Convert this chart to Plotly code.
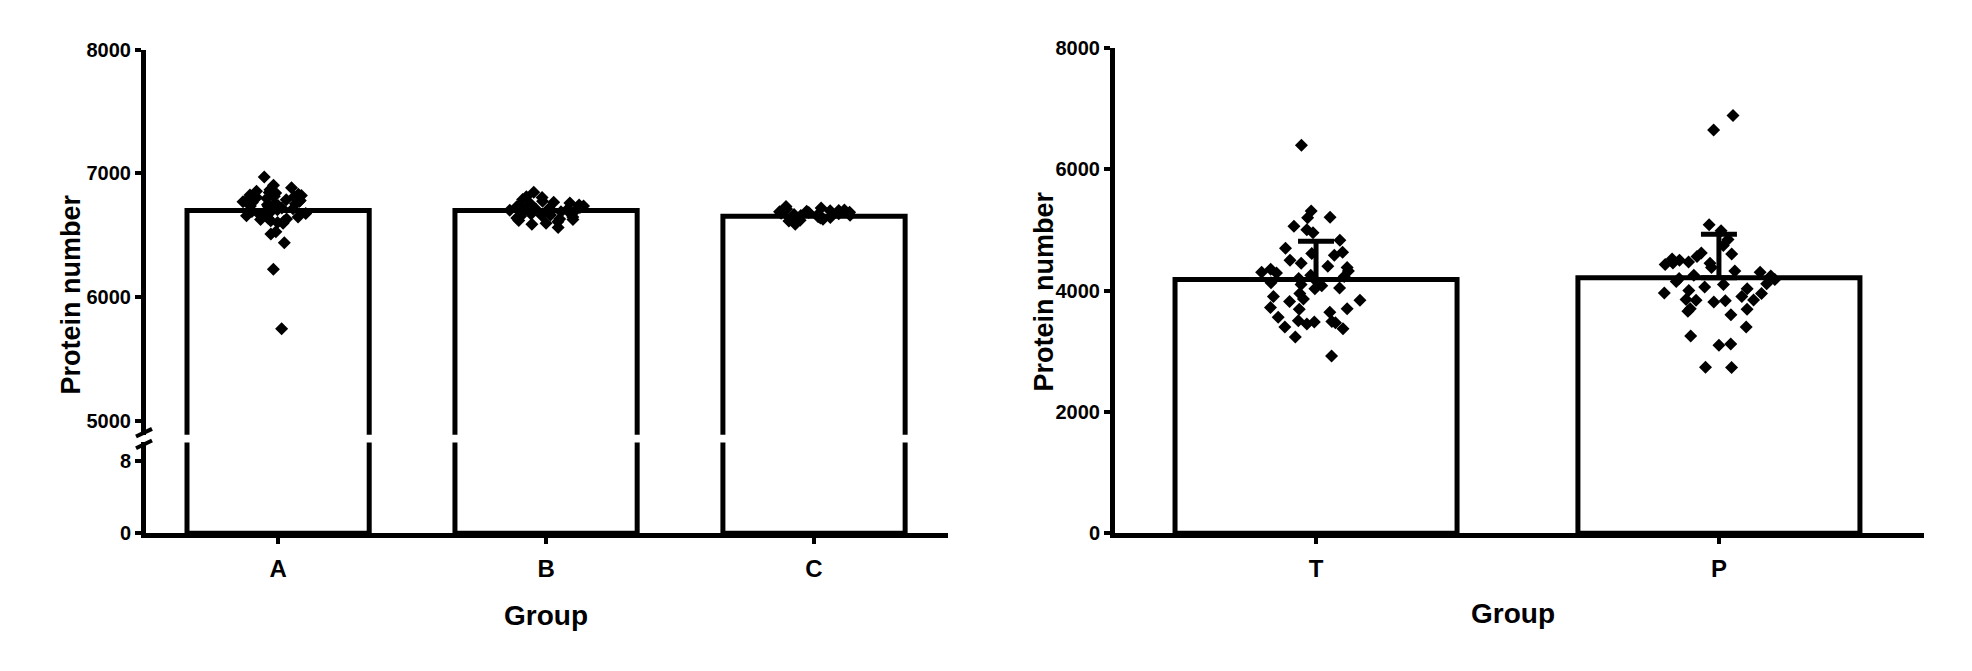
import plotly.graph_objs as go

# ---- data ----
left_groups = ['A', 'B', 'C']
left_means = [6700, 6700, 6655]

a_vals = [6971, 6842, 6823, 6771, 6758, 6628, 6597, 6530, 6511, 6441, 6226, 5745,
          6905, 6884, 6868, 6857, 6846, 6833, 6826, 6812, 6805, 6797, 6788, 6779,
          6773, 6766, 6755, 6748, 6741, 6733, 6722, 6714, 6706, 6694, 6687, 6676,
          6668, 6659, 6648, 6641, 6633, 6619, 6612, 6604, 6782, 6815, 6737, 6692]
b_vals = [6849, 6812, 6805, 6753, 6628, 6563, 6790, 6775, 6762, 6745, 6738, 6726,
          6718, 6711, 6702, 6695, 6688, 6680, 6672, 6665, 6655, 6648, 6640, 6632,
          6621, 6609, 6598, 6590, 6713, 6731, 6768, 6691, 6661, 6706, 6742]
c_vals = [6733, 6641, 6589, 6721, 6712, 6705, 6698, 6690, 6684, 6678, 6672, 6668,
          6662, 6656, 6650, 6645, 6638, 6630, 6622, 6615, 6701, 6686, 6660, 6675, 6694]

right_groups = ['T', 'P']
right_means = [4180, 4210]
right_err = [630, 716]

t_vals = [6392, 5312, 5206, 5198, 5060, 5000, 4952, 4830, 4698, 4630, 4610, 4580,
          4450, 4380, 4350, 4320, 4300, 4290, 4230, 4200, 4160, 4030, 4130, 4080,
          4040, 3840, 3860, 3820, 3700, 3690, 3720, 3640, 3560, 3490, 3500, 3480,
          3470, 3400, 3370, 3450, 3235, 2920, 4250, 4100, 3950, 4400, 4500, 3900]
p_vals = [6883, 6645, 5085, 4984, 4840, 4740, 4620, 4560, 4500, 4450, 4455, 4430,
          4470, 4320, 4300, 4240, 4200, 4150, 4110, 4030, 4000, 3960, 3950, 3840,
          3850, 3830, 3845, 3810, 3700, 3660, 3690, 3600, 3400, 3250, 3100, 3120,
          2730, 2735, 4600, 4380, 4180, 4060, 3900, 4520, 4250, 4100]

# ---- page geometry helpers (pixels -> paper) ----
W, H = 1972, 671


def px(x):
    return x / W


def py(y):
    return (H - y) / H


FONT = 'Liberation Sans, Arial, sans-serif'
NARROW = 'Liberation Sans Narrow, Arial Narrow, Liberation Sans, Arial, sans-serif'

bar_style = dict(color='white', line=dict(color='black', width=5))
dot_style = dict(symbol='diamond', size=10, color='black', line=dict(width=0))

data = []

# left chart: lower (0-10) and upper (4890-8000) parts of the broken axis
data.append(go.Bar(x=left_groups, y=left_means, width=0.68, marker=bar_style,
                   xaxis='x', yaxis='y', hoverinfo='skip'))
data.append(go.Bar(x=left_groups, y=left_means, width=0.68, marker=bar_style,
                   xaxis='x2', yaxis='y2'))
data.append(go.Box(x=['A'] * len(a_vals) + ['B'] * len(b_vals) + ['C'] * len(c_vals),
                   y=a_vals + b_vals + c_vals,
                   boxpoints='all', jitter=1, pointpos=0, width=0.3,
                   fillcolor='rgba(0,0,0,0)', line=dict(color='rgba(0,0,0,0)', width=0),
                   marker=dot_style, xaxis='x2', yaxis='y2'))

# right chart
data.append(go.Bar(x=right_groups, y=right_means, width=0.7, marker=bar_style,
                   error_y=dict(type='data', symmetric=False, array=right_err,
                                arrayminus=[0, 0], color='black', thickness=5, width=18),
                   xaxis='x3', yaxis='y3'))
data.append(go.Box(x=['T'] * len(t_vals) + ['P'] * len(p_vals),
                   y=t_vals + p_vals,
                   boxpoints='all', jitter=1, pointpos=0, width=0.3,
                   fillcolor='rgba(0,0,0,0)', line=dict(color='rgba(0,0,0,0)', width=0),
                   marker=dot_style, xaxis='x3', yaxis='y3'))

tick_font = dict(family=FONT, size=20, color='black', weight='bold')
axis_common = dict(showline=True, linecolor='black', linewidth=5, ticks='outside',
                   tickcolor='black', tickwidth=4, showgrid=False, zeroline=False,
                   fixedrange=True)
title_font = dict(family=FONT, size=27, color='black', weight='bold')
group_font = dict(family=FONT, size=28, color='black', weight='bold')

layout = go.Layout(
    width=W, height=H,
    margin=dict(l=0, r=0, t=0, b=0),
    paper_bgcolor='white', plot_bgcolor='white',
    showlegend=False,
    xaxis=dict(axis_common, domain=[px(146), px(948)], range=[-0.493, 2.5],
               anchor='y', ticklen=6, ticklabelstandoff=4,
               tickfont=dict(family=FONT, size=24, color='black', weight='bold')),
    yaxis=dict(axis_common, domain=[py(540), py(446)], range=[0, 10], anchor='x',
               tickvals=[0, 8], ticklen=6, tickfont=tick_font),
    xaxis2=dict(domain=[px(146), px(948)], range=[-0.493, 2.5], anchor='y2',
                matches='x', visible=False, fixedrange=True),
    yaxis2=dict(axis_common, domain=[py(438), py(40)], range=[4890, 8000], anchor='x2',
                tickvals=[5000, 6000, 7000, 8000], ticklen=6, tickfont=tick_font),
    xaxis3=dict(axis_common, domain=[px(1115), px(1924)], range=[-0.499, 1.509],
                anchor='y3', ticklen=6, ticklabelstandoff=4,
                tickfont=dict(family=NARROW, size=24, color='black', weight='bold')),
    yaxis3=dict(axis_common, domain=[py(540), py(38)], range=[0, 8000], anchor='x3',
                tickvals=[0, 2000, 4000, 6000, 8000], ticklen=6, tickfont=tick_font),
    annotations=[
        dict(text='Protein number', x=px(71), y=py(293), xref='paper', yref='paper',
             xanchor='center', yanchor='middle', textangle=-90, showarrow=False,
             font=title_font),
        dict(text='Protein number', x=px(1044), y=py(290), xref='paper', yref='paper',
             xanchor='center', yanchor='middle', textangle=-90, showarrow=False,
             font=title_font),
        dict(text='Group', x=px(546), y=py(625), xref='paper', yref='paper',
             xanchor='center', yanchor='middle', showarrow=False, font=group_font),
        dict(text='Group', x=px(1513), y=py(623), xref='paper', yref='paper',
             xanchor='center', yanchor='middle', showarrow=False, font=group_font),
    ],
    # axis break marks
    shapes=[
        dict(type='line', xref='paper', yref='paper', x0=px(136), y0=py(440),
             x1=px(152), y1=py(432), line=dict(color='black', width=4)),
        dict(type='line', xref='paper', yref='paper', x0=px(136), y0=py(452),
             x1=px(152), y1=py(444), line=dict(color='black', width=4)),
    ],
)

fig = go.Figure(data=data, layout=layout)

fig.write_html('out.html', config={'displayModeBar': False},
               post_script="document.body.style.margin='0';")
